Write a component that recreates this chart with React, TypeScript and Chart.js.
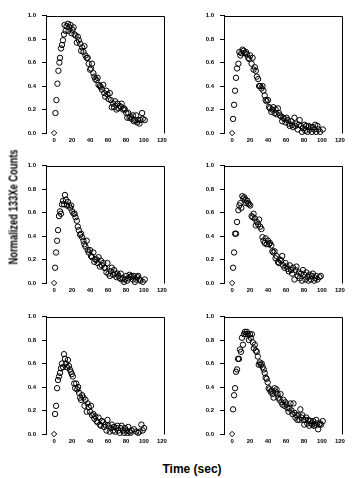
import React, { useEffect, useRef } from "react";
import { Chart, registerables } from "chart.js";

Chart.register(...registerables);

const xTickValues = [0, 20, 40, 60, 80, 100, 120];
const yTickValues = [0, 0.2, 0.4, 0.6, 0.8, 1.0];
const yAxisTitle = "Normalized 133Xe Counts";
const xAxisTitle = "Time (sec)";

// Panel 1 (top left)
const time1 = [0, 1.5, 2.6, 3.7, 4.8, 5.9, 6.6, 7.7, 8.8, 9.9, 11, 11.7, 12.8, 13.9, 15.4, 16.1, 17.2, 18.3, 19.4, 20.6, 21.7, 22.8, 23.9, 25.3, 26.4, 27.5, 29, 30.1, 31.2, 32.7, 33.8, 34.9, 36.3, 37.4, 38.5, 40, 41.1, 42.2, 43.7, 44.8, 45.9, 47.3, 48.4, 49.5, 51, 52.1, 53.2, 54.7, 55.8, 56.9, 58.3, 59.4, 60.6, 62, 63.1, 64.2, 65.7, 66.8, 67.9, 69.4, 70.5, 71.6, 73.1, 74.2, 75.2, 76.7, 77.8, 78.9, 80.4, 81.5, 82.6, 84, 85.1, 86.2, 87.7, 88.8, 89.9, 91.4, 92.5, 93.6, 95, 96.1, 98, 98.7, 100.9];
const counts1 = [0, 0.17, 0.28, 0.42, 0.53, 0.6, 0.64, 0.72, 0.75, 0.79, 0.84, 0.92, 0.87, 0.91, 0.93, 0.87, 0.9, 0.92, 0.85, 0.88, 0.9, 0.84, 0.83, 0.77, 0.82, 0.79, 0.76, 0.7, 0.73, 0.69, 0.74, 0.66, 0.64, 0.64, 0.59, 0.54, 0.55, 0.59, 0.51, 0.48, 0.46, 0.45, 0.47, 0.41, 0.4, 0.39, 0.37, 0.41, 0.34, 0.31, 0.36, 0.33, 0.29, 0.34, 0.28, 0.22, 0.25, 0.22, 0.27, 0.2, 0.25, 0.21, 0.23, 0.22, 0.25, 0.2, 0.21, 0.2, 0.17, 0.13, 0.17, 0.13, 0.14, 0.12, 0.15, 0.1, 0.11, 0.15, 0.09, 0.11, 0.08, 0.11, 0.17, 0.12, 0.11];

// Panel 2 (top right)
const time2 = [0, 1.1, 2.2, 3.3, 4.4, 5.5, 7, 8.1, 9.2, 10.3, 11.7, 12.8, 13.9, 15.4, 16.5, 18, 19.1, 20.2, 21.7, 22.8, 23.9, 25.3, 26.4, 27.5, 29, 30.1, 31.2, 32.7, 33.8, 34.9, 36.3, 37.4, 38.5, 40, 41.1, 42.2, 43.7, 44.8, 45.9, 47.3, 48.4, 49.5, 51, 52.1, 53.2, 54.7, 55.8, 56.9, 58.3, 59.4, 60.6, 62, 63.1, 64.2, 65.7, 66.8, 67.9, 69.4, 70.5, 71.6, 73.1, 74.2, 75.2, 76.7, 77.8, 78.9, 80.4, 81.5, 82.6, 84, 85.1, 86.2, 87.7, 88.8, 89.9, 91.4, 92.5, 93.6, 95, 96.1, 98, 100.9];
const counts2 = [0, 0.12, 0.24, 0.36, 0.47, 0.55, 0.59, 0.69, 0.66, 0.68, 0.71, 0.7, 0.68, 0.69, 0.67, 0.64, 0.63, 0.66, 0.59, 0.64, 0.54, 0.56, 0.53, 0.48, 0.46, 0.4, 0.4, 0.38, 0.4, 0.36, 0.32, 0.28, 0.27, 0.28, 0.22, 0.21, 0.18, 0.2, 0.22, 0.17, 0.2, 0.16, 0.21, 0.17, 0.15, 0.14, 0.1, 0.13, 0.12, 0.09, 0.13, 0.11, 0.08, 0.06, 0.1, 0.07, 0.05, 0.13, 0.06, 0.08, 0.03, 0.07, 0.11, 0.06, 0.01, 0.04, 0.07, 0.02, 0.06, 0.01, 0.06, 0.03, 0.05, 0.01, 0.05, 0.03, 0.07, 0.01, 0.06, 0.03, 0.01, 0.03];

// Panel 3 (middle left)
const time3 = [0, 1.1, 2.2, 3.3, 4.4, 5.5, 6.6, 7.7, 8.8, 9.9, 11, 12.1, 13.2, 14.3, 15.4, 16.5, 18, 19.1, 20.2, 21.7, 22.8, 23.9, 25.3, 26.4, 27.5, 29, 30.1, 31.2, 32.7, 33.8, 34.9, 36.3, 37.4, 38.5, 40, 41.1, 42.2, 43.7, 44.8, 45.9, 47.3, 48.4, 49.5, 51, 52.1, 53.2, 54.7, 55.8, 56.9, 58.3, 59.4, 60.6, 62, 63.1, 64.2, 65.7, 66.8, 67.9, 69.4, 70.5, 71.6, 73.1, 74.2, 75.2, 76.7, 77.8, 78.9, 80.4, 81.5, 82.6, 84, 85.1, 86.2, 87.7, 88.8, 89.9, 91.4, 92.5, 93.6, 95, 96.1, 98.7, 100.9];
const counts3 = [0, 0.13, 0.26, 0.36, 0.45, 0.57, 0.61, 0.59, 0.67, 0.7, 0.67, 0.75, 0.71, 0.66, 0.69, 0.66, 0.64, 0.66, 0.61, 0.59, 0.59, 0.56, 0.53, 0.48, 0.45, 0.41, 0.42, 0.39, 0.36, 0.33, 0.31, 0.36, 0.28, 0.26, 0.28, 0.23, 0.22, 0.26, 0.18, 0.2, 0.2, 0.17, 0.22, 0.14, 0.19, 0.15, 0.17, 0.13, 0.13, 0.09, 0.17, 0.08, 0.06, 0.1, 0.13, 0.07, 0.11, 0.08, 0.05, 0.08, 0.06, 0.04, 0.08, 0.03, 0.04, 0.01, 0.03, 0.06, 0.02, 0.04, 0.07, 0.05, 0.06, 0.03, 0.06, 0.01, 0.03, 0.05, 0.06, 0.03, 0.02, 0.01, 0.03];

// Panel 4 (middle right)
const time4 = [0, 1.1, 2.2, 3.3, 4.4, 5.5, 7, 8.1, 9.2, 10.3, 11.4, 12.5, 13.6, 14.7, 15.8, 16.9, 18, 19.1, 20.2, 21.7, 22.8, 23.9, 25.3, 26.4, 27.5, 29, 30.1, 31.2, 32.7, 33.8, 34.9, 36.3, 37.4, 38.5, 40, 41.1, 42.2, 43.7, 44.8, 45.9, 47.3, 48.4, 49.5, 51, 52.1, 53.2, 54.7, 55.8, 56.9, 58.3, 59.4, 60.6, 62, 63.1, 64.2, 65.7, 66.8, 67.9, 69.4, 70.5, 71.6, 73.1, 74.2, 75.2, 76.7, 77.8, 78.9, 80.4, 81.5, 82.6, 84, 85.1, 86.2, 87.7, 88.8, 89.9, 91.4, 92.5, 93.6, 95, 97.2, 98.7];
const counts4 = [0, 0.13, 0.26, 0.42, 0.42, 0.52, 0.62, 0.66, 0.68, 0.64, 0.74, 0.72, 0.73, 0.71, 0.68, 0.7, 0.68, 0.67, 0.66, 0.57, 0.56, 0.59, 0.55, 0.49, 0.52, 0.5, 0.54, 0.48, 0.46, 0.39, 0.36, 0.34, 0.38, 0.33, 0.36, 0.33, 0.34, 0.32, 0.27, 0.26, 0.27, 0.21, 0.23, 0.18, 0.17, 0.2, 0.19, 0.23, 0.15, 0.13, 0.17, 0.14, 0.12, 0.1, 0.15, 0.11, 0.08, 0.13, 0.03, 0.11, 0.14, 0.06, 0.09, 0.04, 0.08, 0.02, 0.11, 0.07, 0.03, 0.09, 0.05, 0.02, 0.07, 0.03, 0.06, 0.08, 0.02, 0.04, 0.06, 0.03, 0.05, 0.06];

// Panel 5 (bottom left)
const time5 = [0, 1.1, 2.2, 3.3, 4.4, 5.5, 6.6, 7.7, 8.8, 9.9, 11, 12.1, 13.2, 14.3, 15.4, 16.5, 17.6, 18.7, 19.8, 20.9, 22.4, 23.5, 24.6, 25.7, 26.8, 27.9, 29, 30.1, 31.2, 32.7, 33.8, 34.9, 36.3, 37.4, 38.5, 40, 41.1, 42.2, 43.7, 44.8, 45.9, 47.3, 48.4, 49.5, 51, 52.1, 53.2, 54.7, 55.8, 56.9, 58.3, 59.4, 60.6, 62, 63.1, 64.2, 65.7, 66.8, 67.9, 69.4, 70.5, 71.6, 73.1, 74.2, 75.2, 76.7, 77.8, 78.9, 80.4, 81.5, 82.6, 84, 85.1, 86.2, 88.8, 91.4, 93.6, 95, 97.2, 98.7, 100.2];
const counts5 = [0, 0.17, 0.24, 0.39, 0.46, 0.49, 0.52, 0.56, 0.6, 0.57, 0.68, 0.64, 0.6, 0.57, 0.63, 0.58, 0.55, 0.53, 0.51, 0.49, 0.43, 0.39, 0.43, 0.38, 0.4, 0.35, 0.31, 0.29, 0.33, 0.31, 0.24, 0.29, 0.19, 0.26, 0.23, 0.19, 0.24, 0.16, 0.17, 0.13, 0.15, 0.11, 0.1, 0.14, 0.08, 0.07, 0.11, 0.1, 0.06, 0.08, 0.03, 0.12, 0.07, 0.02, 0.05, 0.08, 0.03, 0.06, 0.02, 0.05, 0.07, 0.03, 0.01, 0.05, 0.07, 0.03, 0.01, 0.05, 0.03, 0.01, 0.06, 0.02, 0.01, 0.03, 0.04, 0.02, 0.01, 0.02, 0.08, 0.03, 0.05];

// Panel 6 (bottom right)
const time6 = [0, 1.1, 2.2, 3.3, 4.4, 5.5, 6.6, 7.7, 8.8, 9.9, 11, 12.1, 13.2, 14.3, 15.4, 16.5, 17.6, 18.7, 19.8, 20.9, 22, 23.1, 24.2, 25.3, 26.4, 27.5, 28.6, 29.7, 30.8, 31.9, 33, 34.1, 35.2, 36.3, 37.4, 38.5, 39.6, 40.7, 41.8, 42.9, 44, 45.1, 46.2, 47.3, 48.4, 49.5, 50.6, 51.7, 52.8, 53.9, 55, 56.1, 57.2, 58.3, 59.4, 60.6, 61.7, 62.8, 63.9, 65, 66.1, 67.2, 68.3, 69.4, 70.5, 71.6, 72.7, 73.8, 74.9, 76, 77.1, 78.2, 79.3, 80.4, 81.5, 82.6, 83.7, 84.8, 85.9, 87, 88.1, 89.2, 90.3, 91.4, 92.5, 93.6, 94.7, 95.8, 96.9, 98, 99.1, 100.9];
const counts6 = [0, 0.21, 0.33, 0.39, 0.53, 0.55, 0.64, 0.64, 0.72, 0.7, 0.82, 0.76, 0.85, 0.87, 0.85, 0.87, 0.85, 0.8, 0.85, 0.82, 0.85, 0.78, 0.73, 0.76, 0.71, 0.7, 0.66, 0.59, 0.61, 0.59, 0.6, 0.57, 0.55, 0.52, 0.48, 0.47, 0.44, 0.39, 0.38, 0.36, 0.37, 0.34, 0.31, 0.39, 0.36, 0.38, 0.34, 0.31, 0.29, 0.34, 0.27, 0.25, 0.29, 0.24, 0.27, 0.25, 0.22, 0.19, 0.22, 0.26, 0.2, 0.17, 0.26, 0.18, 0.14, 0.16, 0.12, 0.16, 0.12, 0.21, 0.14, 0.16, 0.12, 0.08, 0.12, 0.14, 0.09, 0.12, 0.07, 0.11, 0.09, 0.08, 0.11, 0.07, 0.08, 0.12, 0.09, 0.04, 0.08, 0.09, 0.08, 0.11];

const panels = [
  { t: time1, c: counts1, left: 6, top: 6 },
  { t: time2, c: counts2, left: 184, top: 6 },
  { t: time3, c: counts3, left: 6, top: 156 },
  { t: time4, c: counts4, left: 184, top: 156 },
  { t: time5, c: counts5, left: 6, top: 307 },
  { t: time6, c: counts6, left: 184, top: 307 },
];

const CW = 165;
const CH = 147;
const tickFont = { family: "'Liberation Sans', Arial, sans-serif", size: 6, weight: "bold" as const };

const framePlugin = {
  id: "frame",
  afterDraw(chart: any) {
    const { ctx, chartArea } = chart;
    const l = Math.round(chartArea.left) + 0.5;
    const r = Math.round(chartArea.right) + 0.5;
    const t = Math.round(chartArea.top) + 0.5;
    const b = Math.round(chartArea.bottom) + 0.5;
    ctx.save();
    ctx.strokeStyle = "#000";
    ctx.lineWidth = 1;
    ctx.beginPath();
    ctx.moveTo(l, t);
    ctx.lineTo(r, t);
    ctx.lineTo(r, b);
    ctx.stroke();
    ctx.restore();
  },
};

function Panel({ t, c, left, top }: { t: number[]; c: number[]; left: number; top: number }) {
  const ref = useRef<HTMLCanvasElement | null>(null);
  useEffect(() => {
    if (!ref.current) return;
    const data = t.map((x, i) => ({ x, y: c[i] }));
    const chart = new Chart(ref.current, {
      type: "scatter",
      data: {
        datasets: [
          {
            data,
            pointStyle: data.map((_, i) => (i === 0 ? "rectRot" : "circle")) as any,
            pointRadius: 2.7,
            pointBorderWidth: 1,
            pointBorderColor: "#000",
            pointBackgroundColor: "rgba(0,0,0,0)",
            clip: false as any,
          },
        ],
      },
      options: {
        responsive: false,
        animation: false,
        devicePixelRatio: 1,
        layout: { padding: { left: 0, top: 8, right: 6, bottom: 0 } },
        plugins: { legend: { display: false }, tooltip: { enabled: false } },
        scales: {
          x: {
            type: "linear",
            min: -9,
            max: 122,
            afterBuildTicks: (s: any) => {
              s.ticks = xTickValues.map((v) => ({ value: v }));
            },
            afterFit: (s: any) => {
              s.height = 20;
            },
            grid: { display: false, drawTicks: false, tickLength: 0 },
            border: { display: false },
            ticks: {
              color: "#000",
              font: tickFont,
              padding: 4,
              maxRotation: 0,
              autoSkip: false,
              callback: (v: any) => String(v),
            },
          },
          y: {
            type: "linear",
            min: 0,
            max: 1,
            afterBuildTicks: (s: any) => {
              s.ticks = yTickValues.map((v) => ({ value: v }));
            },
            afterFit: (s: any) => {
              s.width = 40;
            },
            grid: { display: true, drawOnChartArea: false, drawTicks: true, tickLength: 4, color: "#000" },
            border: { display: true, color: "#000", width: 1 },
            ticks: {
              color: "#000",
              font: tickFont,
              padding: 6,
              autoSkip: false,
              callback: (v: any) => Number(v).toFixed(1),
            },
          },
        },
      },
      plugins: [framePlugin],
    });
    return () => chart.destroy();
  }, [t, c]);
  return (
    <canvas
      ref={ref}
      width={CW}
      height={CH}
      style={{ position: "absolute", left, top, width: CW, height: CH }}
    />
  );
}

export default function App() {
  return (
    <div style={{ position: "absolute", left: 0, top: 0, width: 357, height: 478, background: "#fff", overflow: "hidden" }}>
      {panels.map((p, i) => (
        <Panel key={i} t={p.t} c={p.c} left={p.left} top={p.top} />
      ))}
      <div
        style={{
          position: "absolute",
          left: 13,
          top: 207,
          transform: "translate(-50%, -50%) rotate(-90deg) scaleX(0.72)",
          whiteSpace: "nowrap",
          fontFamily: "'Liberation Sans', Arial, sans-serif",
          fontWeight: "bold",
          fontSize: 13,
          lineHeight: "13px",
          color: "#000",
        }}
      >
        {yAxisTitle}
      </div>
      <div
        style={{
          position: "absolute",
          left: 192,
          top: 469,
          transform: "translate(-50%, -50%)",
          whiteSpace: "nowrap",
          fontFamily: "'Liberation Sans', Arial, sans-serif",
          fontWeight: "bold",
          fontSize: 12,
          lineHeight: "12px",
          color: "#000",
        }}
      >
        {xAxisTitle}
      </div>
    </div>
  );
}
